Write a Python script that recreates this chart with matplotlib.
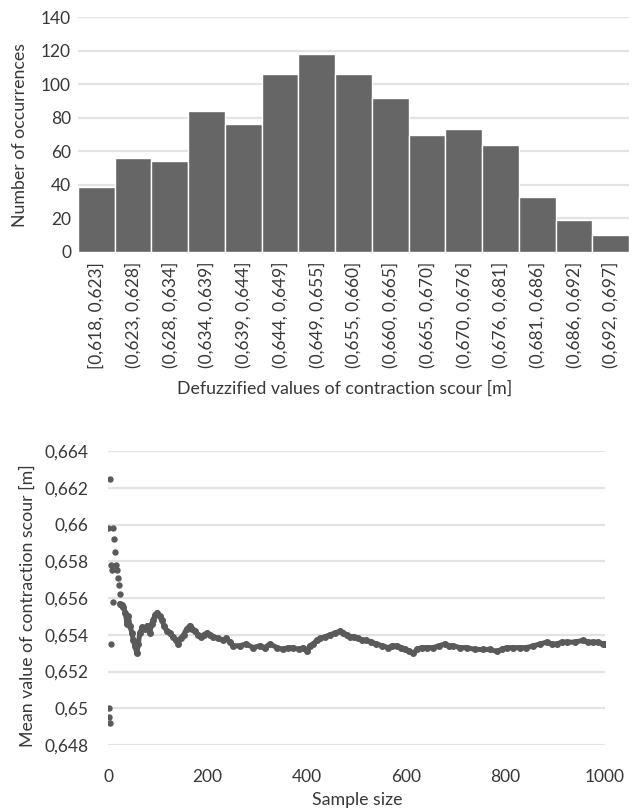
import matplotlib
matplotlib.use("Agg")
import matplotlib.pyplot as plt

plt.rcParams['font.family'] = ['Lato', 'DejaVu Sans']

# ---------------- data: histogram ----------------
bin_labels = ["[0,618, 0,623]", "(0,623, 0,628]", "(0,628, 0,634]", "(0,634, 0,639]",
              "(0,639, 0,644]", "(0,644, 0,649]", "(0,649, 0,655]", "(0,655, 0,660]",
              "(0,660, 0,665]", "(0,665, 0,670]", "(0,670, 0,676]", "(0,676, 0,681]",
              "(0,681, 0,686]", "(0,686, 0,692]", "(0,692, 0,697]"]
counts = [39, 56, 54, 84, 76, 106, 118, 106, 92, 70, 73, 64, 33, 19, 10]
hist_yticks = [0, 20, 40, 60, 80, 100, 120, 140]

# ---------------- data: running mean ----------------
early_n = [1, 2, 3, 4, 5, 6, 7, 8, 10, 11, 12, 14, 16, 18, 20, 22, 24, 26]
early_mean = [0.6598, 0.6500, 0.6495, 0.6625, 0.6492, 0.6578, 0.6535, 0.6575,
              0.6598, 0.6558, 0.6592, 0.6585, 0.6578, 0.6575, 0.6571, 0.6567,
              0.6562, 0.6556]

curve_n = [24, 28, 31, 35, 38, 41, 44, 48, 51, 54, 58,
           61, 64, 69, 74, 79, 84, 88, 91, 95, 99, 104, 108, 113, 118, 124, 131,
           136, 141, 146, 152, 158, 165, 170, 175, 181, 188, 193, 199, 205, 212,
           222, 232, 238, 245, 252, 265, 278, 292, 305, 315, 326, 340, 352, 362,
           372, 384, 393, 400, 406, 413, 420, 427, 437, 447, 457, 467, 473, 480,
           487, 495, 503, 511, 520, 530, 540, 552, 564, 572, 581, 590, 598, 606,
           614, 622, 631, 642, 654, 666, 678, 686, 695, 708, 722, 738, 755, 768,
           782, 792, 802, 815, 829, 842, 856, 870, 883, 893, 903, 913, 923, 940,
           956, 966, 976, 986, 996, 1000]
curve_mean = [0.6557, 0.6556,
              0.6555, 0.6552, 0.6546, 0.6550, 0.6545, 0.6541, 0.6537, 0.6534, 0.6530,
              0.6535, 0.6541, 0.6544, 0.6543, 0.6545, 0.6541, 0.6546, 0.6548, 0.6551,
              0.6552, 0.6550, 0.6548, 0.6545, 0.6542, 0.6541, 0.6539, 0.6537, 0.6535,
              0.6538, 0.6540, 0.6543, 0.6545, 0.6543, 0.6542, 0.6540, 0.6539, 0.6540,
              0.6541, 0.6540, 0.6539, 0.6538, 0.6537, 0.6538, 0.6536, 0.6534, 0.6534,
              0.6535, 0.6533, 0.6534, 0.6533, 0.6535, 0.6533, 0.6532, 0.6533, 0.6533,
              0.6532, 0.6533, 0.6531, 0.6534, 0.6535, 0.6537, 0.6538, 0.6539, 0.6540,
              0.6541, 0.6542, 0.6541, 0.6540, 0.6539, 0.6539, 0.6538, 0.6537, 0.6537,
              0.6536, 0.6535, 0.6534, 0.6533, 0.6534, 0.6534, 0.6533, 0.6532, 0.6531,
              0.6530, 0.6532, 0.6533, 0.6533, 0.6533, 0.6534, 0.6535, 0.6534, 0.6534,
              0.6533, 0.6533, 0.6532, 0.6532, 0.6532, 0.6531, 0.6532, 0.6533, 0.6533,
              0.6533, 0.6533, 0.6534, 0.6535, 0.6536, 0.6535, 0.6535, 0.6536, 0.6536,
              0.6536, 0.6537, 0.6536, 0.6536, 0.6536, 0.6535, 0.6535]

mean_yticks = [0.648, 0.650, 0.652, 0.654, 0.656, 0.658, 0.660, 0.662, 0.664]
mean_yticklabels = ["0,648", "0,65", "0,652", "0,654", "0,656", "0,658", "0,66", "0,662", "0,664"]
mean_xticks = [0, 200, 400, 600, 800, 1000]

TEXT = '#383838'
GRID = '#e3e3e3'
BAR = '#666666'
DOT = '#5a5a5a'

W, H = 632, 810
fig = plt.figure(figsize=(W / 100, H / 100), dpi=100)

def px_axes(left, top, right, bottom):
    return fig.add_axes([left / W, 1 - bottom / H, (right - left) / W, (bottom - top) / H])

# ---------------- top: histogram ----------------
ax1 = px_axes(78, 17, 629, 252)
x = list(range(len(counts)))
ax1.bar(x, counts, width=1.0, color=BAR, edgecolor='white', linewidth=1.0, zorder=3)
ax1.set_xlim(-0.5, len(counts) - 0.5)
ax1.set_ylim(0, 140)
ax1.set_yticks(hist_yticks)
ax1.set_xticks(x)
ax1.set_xticklabels(bin_labels, rotation=90, va='top', ha='center')
ax1.yaxis.grid(True, color=GRID, linewidth=1.6, zorder=0)
ax1.set_axisbelow(True)
for s in ax1.spines.values():
    s.set_visible(False)
ax1.tick_params(axis='both', length=0, labelsize=12.5, colors=TEXT)
ax1.tick_params(axis='y', pad=5)
ax1.tick_params(axis='x', pad=7)
fig.text(20 / W, 1 - 135 / H, "Number of occurrences", rotation=90, ha='center', va='center',
         fontsize=12.8, color=TEXT)
fig.text(345 / W, 1 - 389 / H, "Defuzzified values of contraction scour [m]", ha='center',
         va='center', fontsize=12.8, color=TEXT)

# ---------------- bottom: running mean ----------------
ax2 = px_axes(108, 451, 605, 745)
ax2.plot(curve_n, curve_mean, color=DOT, linewidth=3.6, solid_joinstyle='round',
         solid_capstyle='round', marker='o', markersize=4, zorder=3)
ax2.plot(early_n, early_mean, linestyle='none', color=DOT, marker='o', markersize=3.6, zorder=3)
ax2.set_xlim(0, 1000)
ax2.set_ylim(0.648, 0.664)
ax2.set_yticks(mean_yticks)
ax2.set_yticklabels(mean_yticklabels)
ax2.set_xticks(mean_xticks)
ax2.yaxis.grid(True, color=GRID, linewidth=1.6, zorder=0)
ax2.set_axisbelow(True)
for s in ax2.spines.values():
    s.set_visible(False)
ax2.tick_params(axis='both', length=0, labelsize=12.5, colors=TEXT)
ax2.tick_params(axis='y', pad=14)
ax2.tick_params(axis='x', pad=17)
fig.text(28 / W, 1 - 606 / H, "Mean value of contraction scour [m]", rotation=90, ha='center',
         va='center', fontsize=12.8, color=TEXT)
fig.text(357 / W, 1 - 800 / H, "Sample size", ha='center', va='center', fontsize=12.8, color=TEXT)

fig.savefig("out.png", dpi=100, facecolor='white')
